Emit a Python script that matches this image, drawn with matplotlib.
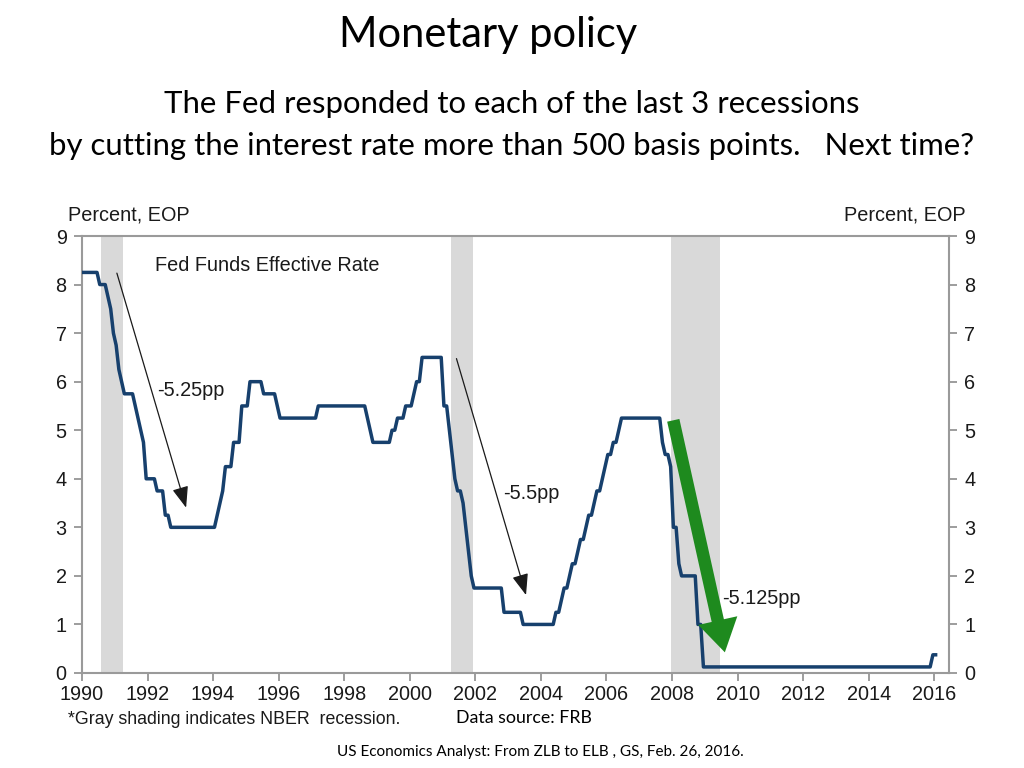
import numpy as np
import matplotlib
matplotlib.use("Agg")
import matplotlib.pyplot as plt

# ---- Data: end-of-period fed funds rate, monthly (Jan..Dec) ----
r1990 = [8.25, 8.25, 8.25, 8.25, 8.25, 8.25, 8.0, 8.0, 8.0, 7.75, 7.5, 7.0]
r1991 = [6.75, 6.25, 6.0, 5.75, 5.75, 5.75, 5.75, 5.5, 5.25, 5.0, 4.75, 4.0]
r1992 = [4.0, 4.0, 4.0, 3.75, 3.75, 3.75, 3.25, 3.25, 3.0, 3.0, 3.0, 3.0]
r1993 = [3.0] * 12
r1994 = [3.0, 3.25, 3.5, 3.75, 4.25, 4.25, 4.25, 4.75, 4.75, 4.75, 5.5, 5.5]
r1995 = [5.5, 6.0, 6.0, 6.0, 6.0, 6.0, 5.75, 5.75, 5.75, 5.75, 5.75, 5.5]
r1996 = [5.25] * 12
r1997 = [5.25, 5.25, 5.5, 5.5, 5.5, 5.5, 5.5, 5.5, 5.5, 5.5, 5.5, 5.5]
r1998 = [5.5, 5.5, 5.5, 5.5, 5.5, 5.5, 5.5, 5.5, 5.25, 5.0, 4.75, 4.75]
r1999 = [4.75, 4.75, 4.75, 4.75, 4.75, 5.0, 5.0, 5.25, 5.25, 5.25, 5.5, 5.5]
r2000 = [5.5, 5.75, 6.0, 6.0, 6.5, 6.5, 6.5, 6.5, 6.5, 6.5, 6.5, 6.5]
r2001 = [5.5, 5.5, 5.0, 4.5, 4.0, 3.75, 3.75, 3.5, 3.0, 2.5, 2.0, 1.75]
r2002 = [1.75] * 10 + [1.25, 1.25]
r2003 = [1.25, 1.25, 1.25, 1.25, 1.25, 1.0, 1.0, 1.0, 1.0, 1.0, 1.0, 1.0]
r2004 = [1.0, 1.0, 1.0, 1.0, 1.0, 1.25, 1.25, 1.5, 1.75, 1.75, 2.0, 2.25]
r2005 = [2.25, 2.5, 2.75, 2.75, 3.0, 3.25, 3.25, 3.5, 3.75, 3.75, 4.0, 4.25]
r2006 = [4.5, 4.5, 4.75, 4.75, 5.0, 5.25, 5.25, 5.25, 5.25, 5.25, 5.25, 5.25]
r2007 = [5.25, 5.25, 5.25, 5.25, 5.25, 5.25, 5.25, 5.25, 4.75, 4.5, 4.5, 4.25]
r2008 = [3.0, 3.0, 2.25, 2.0, 2.0, 2.0, 2.0, 2.0, 2.0, 1.0, 1.0, 0.125]
r2009 = [0.125] * 12
r2010 = [0.125] * 12
r2011 = [0.125] * 12
r2012 = [0.125] * 12
r2013 = [0.125] * 12
r2014 = [0.125] * 12
r2015 = [0.125] * 11 + [0.375]
r2016 = [0.375]

years = list(range(1990, 2017))
yearly = [r1990, r1991, r1992, r1993, r1994, r1995, r1996, r1997, r1998, r1999,
          r2000, r2001, r2002, r2003, r2004, r2005, r2006, r2007, r2008, r2009,
          r2010, r2011, r2012, r2013, r2014, r2015, r2016]

recessions = [(1990.58, 1991.25), (2001.25, 2001.92), (2007.96, 2009.46)]

x_ticks = list(range(1990, 2017, 2))
y_ticks = list(range(0, 10))

# build time axis (mid-month)
t = []
v = []
for yr, vals in zip(years, yearly):
    for m, val in enumerate(vals):
        t.append(yr + (m + 0.5) / 12)
        v.append(val)

# ---- Figure ----
fig = plt.figure(figsize=(10.24, 7.68), dpi=100)
ax = fig.add_axes([82 / 1024, 1 - 673 / 768, (949 - 82) / 1024, (673 - 236) / 768])

chart_font = "Liberation Sans"
title_font = "Lato"
fs = 14.3

for a, b in recessions:
    ax.axvspan(a, b, color="#d9d9d9", lw=0, zorder=0)

ax.plot(t, v, color="#17406d", lw=2.5, zorder=3, solid_joinstyle="round")

ax.set_xlim(1990, 2016.45)
ax.set_ylim(0, 9)
ax.set_xticks(x_ticks)
ax.set_yticks(y_ticks)
ax.set_xticklabels([str(x) for x in x_ticks], fontfamily=chart_font, fontsize=fs)
ax.set_yticklabels([str(y) for y in y_ticks], fontfamily=chart_font, fontsize=fs)
ax.tick_params(axis="both", direction="out", length=6, width=1.2, color="#8c8c8c",
               colors="#1a1a1a")
ax.tick_params(axis="y", right=True, labelright=True, pad=5)
ax.tick_params(axis="x", pad=3)
for s in ax.spines.values():
    s.set_color("#9a9a9a")
    s.set_linewidth(1.5)

# annotations inside chart
ax.text(1992.23, 8.4, "Fed Funds Effective Rate", fontfamily=chart_font, fontsize=fs,
        va="center", ha="left", color="#1a1a1a")
ax.text(1992.3, 5.82, "-5.25pp", fontfamily=chart_font, fontsize=fs,
        va="center", ha="left", color="#1a1a1a")
ax.text(2002.85, 3.7, "-5.5pp", fontfamily=chart_font, fontsize=fs,
        va="center", ha="left", color="#1a1a1a")
ax.text(2009.52, 1.54, "-5.125pp", fontfamily=chart_font, fontsize=fs,
        va="center", ha="left", color="#1a1a1a")

ax.annotate("", xy=(1993.2, 3.35), xytext=(1991.04, 8.29),
            arrowprops=dict(arrowstyle="-|>,head_length=1.3,head_width=0.5",
                            color="#1a1a1a", lw=0.9))
ax.annotate("", xy=(2003.57, 1.55), xytext=(2001.4, 6.53),
            arrowprops=dict(arrowstyle="-|>,head_length=1.3,head_width=0.5",
                            color="#1a1a1a", lw=0.9))
ax.annotate("", xy=(2009.63, 0.37), xytext=(2008.02, 5.26),
            arrowprops=dict(arrowstyle="simple,head_length=1.3,head_width=1.6,tail_width=0.5",
                            color="#1e8a1e", lw=0, mutation_scale=18), zorder=5)

# axis unit labels
fig.text(68 / 1024, 1 - 215 / 768, "Percent, EOP", fontfamily=chart_font, fontsize=fs,
         ha="left", va="center", color="#1a1a1a")
fig.text(966 / 1024, 1 - 215 / 768, "Percent, EOP", fontfamily=chart_font, fontsize=fs,
         ha="right", va="center", color="#1a1a1a")
fig.text(68 / 1024, 1 - 720 / 768, "*Gray shading indicates NBER  recession.",
         fontfamily=chart_font, fontsize=12.8, ha="left", va="center", color="#1a1a1a")

# titles
fig.text(488 / 1024, 1 - 35 / 768, "Monetary policy", fontfamily=title_font, fontsize=30,
         ha="center", va="center", color="black")
fig.text(512 / 1024, 1 - 104 / 768, "The Fed responded to each of the last 3 recessions",
         fontfamily=title_font, fontsize=22.4, ha="center", va="center", color="black")
fig.text(512 / 1024, 1 - 146 / 768,
         "by cutting the interest rate more than 500 basis points.   Next time?",
         fontfamily=title_font, fontsize=22.4, ha="center", va="center", color="black")
fig.text(524 / 1024, 1 - 718 / 768, "Data source: FRB", fontfamily=title_font, fontsize=12.8,
         ha="center", va="center", color="black")
fig.text(540 / 1024, 1 - 752 / 768,
         "US Economics Analyst: From ZLB to ELB , GS, Feb. 26, 2016.",
         fontfamily=title_font, fontsize=11, ha="center", va="center", color="black")

fig.savefig("out.png", dpi=100)
